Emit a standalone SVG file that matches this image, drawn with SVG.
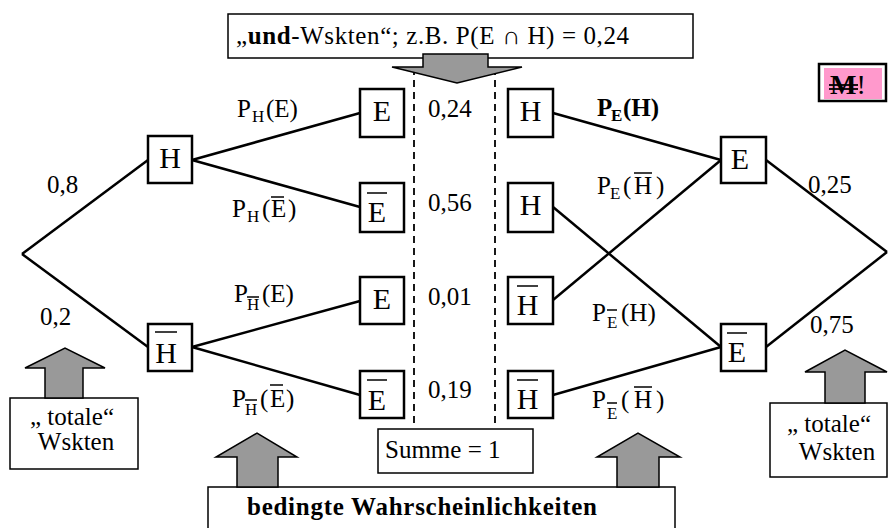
<svg xmlns="http://www.w3.org/2000/svg" width="890" height="528" viewBox="0 0 890 528" font-family="'Liberation Serif', 'DejaVu Serif', serif">
<style>
text{font-family:"Liberation Serif","DejaVu Serif",serif;fill:#000}
.box{fill:#fff;stroke:#000;stroke-width:2.5}
.nl{font-size:30px;text-anchor:middle}
.num{font-size:25px}
.lab{font-size:25px}
.sub{font-size:17px}
.edge{stroke:#000;stroke-width:2.5;fill:none}
.bar{stroke:#000;stroke-width:1.5}
.arrow{fill:#999;stroke:#000;stroke-width:1.5;stroke-linejoin:miter}
.frame{fill:#fff;stroke:#000;stroke-width:1.5}
.dash{stroke:#000;stroke-width:1.8;stroke-dasharray:7,5}
</style>
<rect width="890" height="528" fill="#fff"/>

<g id="connectors">
  <line class="edge" x1="22" y1="254" x2="148" y2="160"/>
  <line class="edge" x1="22" y1="254" x2="148" y2="347"/>
  <line class="edge" x1="192" y1="160" x2="360" y2="113"/>
  <line class="edge" x1="192" y1="160" x2="360" y2="207"/>
  <line class="edge" x1="192" y1="347" x2="360" y2="301"/>
  <line class="edge" x1="192" y1="347" x2="360" y2="395"/>
  <line class="edge" x1="553" y1="113" x2="721" y2="160"/>
  <line class="edge" x1="553" y1="207" x2="721" y2="347"/>
  <line class="edge" x1="553" y1="300" x2="721" y2="160"/>
  <line class="edge" x1="553" y1="395" x2="721" y2="347"/>
  <line class="edge" x1="766" y1="160" x2="887" y2="252"/>
  <line class="edge" x1="766" y1="347" x2="887" y2="252"/>
  <line class="dash" x1="414" y1="68" x2="414" y2="424"/>
  <line class="dash" x1="495" y1="68" x2="495" y2="424"/>
</g>

<g id="edge-labels">
  <text class="num" x="47" y="193">0,8</text>
  <text class="num" x="40" y="325">0,2</text>
  <text class="num" x="808" y="193">0,25</text>
  <text class="num" x="810" y="333">0,75</text>

  <text class="lab" x="237" y="117">P<tspan class="sub" x="252" y="122">H</tspan><tspan x="266" y="117">(E)</tspan></text>
  <text class="lab" x="232" y="217">P<tspan class="sub" x="247" y="222">H</tspan><tspan x="262" y="217">(</tspan><tspan x="271" y="217">E</tspan><tspan x="288" y="217">)</tspan></text>
  <line class="bar" x1="271" y1="197" x2="284" y2="197"/>
  <text class="lab" x="234" y="302">P<tspan class="sub" x="247" y="310">H</tspan><tspan x="262" y="302">(E)</tspan></text>
  <line class="bar" x1="247" y1="297" x2="259" y2="297"/>
  <text class="lab" x="232" y="407">P<tspan class="sub" x="245" y="415">H</tspan><tspan x="260" y="407">(</tspan><tspan x="270" y="407">E</tspan><tspan x="286" y="407">)</tspan></text>
  <line class="bar" x1="245" y1="400" x2="257" y2="400"/>
  <line class="bar" x1="270" y1="385" x2="283" y2="385"/>

  <text class="lab" x="597" y="116" font-weight="bold">P<tspan class="sub" x="611" y="121">E</tspan><tspan x="623" y="116">(H)</tspan></text>
  <text class="lab" x="597" y="194">P<tspan class="sub" x="610" y="199">E</tspan><tspan x="623" y="194">(</tspan><tspan x="634" y="194">H</tspan><tspan x="656" y="194">)</tspan></text>
  <line class="bar" x1="634" y1="173" x2="652" y2="173"/>
  <text class="lab" x="592" y="321">P<tspan class="sub" x="607" y="328">E</tspan><tspan x="621" y="321">(H)</tspan></text>
  <line class="bar" x1="607" y1="310" x2="617" y2="310"/>
  <text class="lab" x="592" y="408">P<tspan class="sub" x="607" y="419">E</tspan><tspan x="621" y="408">(</tspan><tspan x="634" y="408">H</tspan><tspan x="656" y="408">)</tspan></text>
  <line class="bar" x1="607" y1="403" x2="617" y2="403"/>
  <line class="bar" x1="634" y1="387" x2="652" y2="387"/>

  <text class="num" x="428" y="117">0,24</text>
  <text class="num" x="428" y="211">0,56</text>
  <text class="num" x="428" y="305">0,01</text>
  <text class="num" x="428" y="398">0,19</text>
</g>

<g id="node-H">
  <rect class="box" x="148" y="136" width="44" height="47"/>
  <text class="nl" x="170" y="168">H</text>
</g>
<g id="node-Hbar">
  <rect class="box" x="148" y="324" width="44" height="47"/>
  <text class="nl" x="166" y="363">H</text>
  <line class="bar" x1="155" y1="332" x2="177" y2="332"/>
</g>
<g id="node-E1">
  <rect class="box" x="360" y="89" width="44" height="48"/>
  <text class="nl" x="382" y="121">E</text>
</g>
<g id="node-Ebar1">
  <rect class="box" x="360" y="183" width="44" height="49"/>
  <text class="nl" x="377" y="222">E</text>
  <line class="bar" x1="367" y1="193" x2="387" y2="193"/>
</g>
<g id="node-E2">
  <rect class="box" x="360" y="277" width="44" height="47"/>
  <text class="nl" x="382" y="309">E</text>
</g>
<g id="node-Ebar2">
  <rect class="box" x="360" y="371" width="44" height="47"/>
  <text class="nl" x="377" y="410">E</text>
  <line class="bar" x1="367" y1="380" x2="387" y2="380"/>
</g>
<g id="node-H1r">
  <rect class="box" x="508" y="89" width="45" height="48"/>
  <text class="nl" x="530.5" y="121">H</text>
</g>
<g id="node-H2r">
  <rect class="box" x="508" y="183" width="45" height="49"/>
  <text class="nl" x="530.5" y="215">H</text>
</g>
<g id="node-Hbar1r">
  <rect class="box" x="508" y="277" width="45" height="47"/>
  <text class="nl" x="527.5" y="315">H</text>
  <line class="bar" x1="517" y1="286" x2="538" y2="286"/>
</g>
<g id="node-Hbar2r">
  <rect class="box" x="508" y="371" width="45" height="47"/>
  <text class="nl" x="527.5" y="409">H</text>
  <line class="bar" x1="517" y1="380" x2="538" y2="380"/>
</g>
<g id="node-Er">
  <rect class="box" x="721" y="137" width="45" height="46"/>
  <text class="nl" x="740" y="169">E</text>
</g>
<g id="node-Ebarr">
  <rect class="box" x="721" y="324" width="45" height="47"/>
  <text class="nl" x="737" y="362">E</text>
  <line class="bar" x1="727" y1="333" x2="747" y2="333"/>
</g>

<g id="top-note">
  <rect class="frame" x="228" y="14" width="465" height="44"/>
  <text class="lab" x="236" y="44" textLength="393" lengthAdjust="spacing">„<tspan font-weight="bold">und</tspan>-Wskten“; z.B. P(E ∩ H) = 0,24</text>
  <polygon class="arrow" points="423,54 488,54 488,67 522,67 457,83 392,67 423,67"/>
</g>

<g id="m-note">
  <rect x="819" y="64" width="67" height="37" fill="#fff" stroke="#000" stroke-width="2.5"/>
  <rect x="824" y="68" width="58" height="31" fill="#ff99cc"/>
  <text x="830" y="94" style="font-size:28px;font-weight:bold">M<tspan style="font-weight:normal">!</tspan></text>
  <line x1="829" y1="85" x2="858" y2="85" stroke="#000" stroke-width="1.8"/>
  <line x1="829" y1="89" x2="858" y2="89" stroke="#000" stroke-width="1.8"/>
</g>

<g id="total-left">
  <rect class="frame" x="10" y="398" width="128" height="71"/>
  <polygon class="arrow" points="45,398 45,368 25,368 65,348 105,368 83,368 83,398"/>
  <text class="lab" x="72" y="425" text-anchor="middle">„ totale“</text>
  <text class="lab" x="76" y="450" text-anchor="middle">Wskten</text>
</g>

<g id="total-right">
  <rect class="frame" x="770" y="403" width="117" height="74"/>
  <polygon class="arrow" points="825,403 825,372 805,372 845,350 887,372 865,372 865,403"/>
  <text class="lab" x="829" y="432" text-anchor="middle">„ totale“</text>
  <text class="lab" x="837" y="460" text-anchor="middle">Wskten</text>
</g>

<g id="sum-note">
  <rect class="frame" x="378" y="429" width="155" height="44"/>
  <text class="lab" x="385" y="458">Summe = 1</text>
</g>

<g id="cond-note">
  <rect class="frame" x="208" y="487" width="467" height="50"/>
  <polygon class="arrow" points="237,487 237,457 216,457 257,433 297,457 278,457 278,487"/>
  <polygon class="arrow" points="617,487 617,457 597,457 638,433 680,457 659,457 659,487"/>
  <text class="lab" x="247" y="515" font-weight="bold" textLength="350" lengthAdjust="spacing">bedingte Wahrscheinlichkeiten</text>
</g>
</svg>
